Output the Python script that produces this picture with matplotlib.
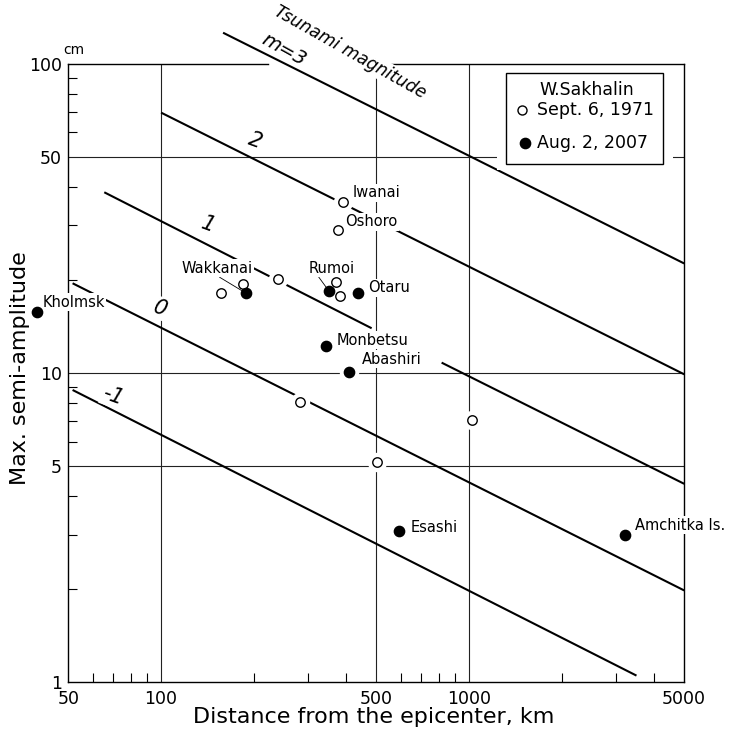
import matplotlib.pyplot as plt
from matplotlib.patches import Rectangle

#-------------- Data -------------------------------------
# W. Sakhalin, Sept. 6 1971 -> open circles (distance km, semi-amplitude cm)
dist_1971 = [389, 375, 157, 185, 239, 370, 381, 283, 1025, 502]
amp_1971 = [35.8, 29.0, 18.1, 19.4, 20.1, 19.65, 17.7, 8.07, 7.05, 5.17]

# W. Sakhalin, Aug. 2 2007 -> filled circles
dist_2007 = [39.4, 189, 351, 437, 343, 409, 594, 3210]
amp_2007 = [15.7, 18.1, 18.4, 18.2, 12.2, 10.05, 3.08, 2.99]

names_1971 = ['Iwanai', 'Oshoro']
names_2007 = ['Kholmsk', 'Wakkanai', 'Rumoi', 'Otaru', 'Monbetsu',
              'Abashiri', 'Esashi', 'Amchitka Is.']

# tsunami magnitude lines, drawn segments (m=1 is broken near Abashiri)
seg_mag = ['3', '2', '1', '1', '0', '-1']
seg_x0 = [159, 100, 65.4, 815, 51.6, 51.6]
seg_y0 = [126, 69.5, 38.4, 10.8, 19.5, 8.81]
seg_x1 = [5000, 5000, 483, 5000, 5000, 3500]
seg_y1 = [22.6, 9.9, 13.95, 4.38, 1.98, 1.05]

x_ticks = [50, 100, 500, 1000, 5000]
y_ticks = [1, 5, 10, 50, 100]
x_minor = [60, 70, 80, 90, 200, 300, 400, 600, 700, 800, 900, 2000, 3000, 4000]
y_minor = [2, 3, 4, 6, 7, 8, 9, 20, 30, 40, 60, 70, 80, 90]
x_grid = [100, 500, 1000]
y_grid = [5, 10, 50]

PX = 0.72  # pixel -> point at 100 dpi
white = dict(facecolor='white', edgecolor='none', pad=1.0)

#-------------- Figure ---------------
fig = plt.figure(figsize=(7.36, 7.37), dpi=100)
ax = fig.add_axes([0.0929, 0.0744, 0.8367, 0.8391])
ax.set_xscale('log')
ax.set_yscale('log')
ax.set_xlim(50, 5000)
ax.set_ylim(1, 100)

# grid lines
for gx in x_grid:
    ax.axvline(gx, color='#222222', lw=0.8, zorder=1)
for gy in y_grid:
    ax.axhline(gy, color='#222222', lw=0.8, zorder=1)

# magnitude lines
for i in range(len(seg_mag)):
    ax.plot([seg_x0[i], seg_x1[i]], [seg_y0[i], seg_y1[i]], color='black',
            lw=1.5, zorder=2, clip_on=False, solid_capstyle='butt')

# line labels
ax.text(250.6, 110.7, 'm=3', rotation=-29, fontsize=14, style='italic',
        ha='center', va='center')
ax.text(411, 109.2, 'Tsunami magnitude', rotation=-29.4, fontsize=12.5,
        style='italic', ha='center', va='center', bbox=white, zorder=4)
lab_text = ['2', '1', '0', '-1']
lab_pos = [(202, 56.5), (142, 30.1), (99.2, 16.2), (69.9, 8.43)]
for lab, (lx, ly) in zip(lab_text, lab_pos):
    ax.text(lx, ly, lab, rotation=-20, fontsize=15, style='italic',
            ha='center', va='center', bbox=white, zorder=4)

# white halos so lines break around the points
ax.plot(dist_1971 + dist_2007, amp_1971 + amp_2007, 'o', ms=14, color='white',
        mec='none', zorder=3, clip_on=False)
ax.plot(dist_1971, amp_1971, 'o', ms=6.8, mfc='white', mec='black', mew=1.0,
        zorder=5, clip_on=False)
ax.plot(dist_2007, amp_2007, 'o', ms=7.4, color='black', zorder=5, clip_on=False)

# station labels (offsets in px, right / up)
off_1971 = [(10, 9), (7, 8)]
off_2007 = [(6, 10), (-29, 25), (2.5, 23), (10, 5), (11, 6), (12, 13), (11, 4), (10, 10)]
for name, x, y, (dx, dy) in zip(names_1971, dist_1971, amp_1971, off_1971):
    ax.annotate(name, (x, y), xytext=(dx * PX, dy * PX), textcoords='offset points',
                fontsize=10.5, ha='left', va='center', bbox=white, zorder=4)
for name, x, y, (dx, dy) in zip(names_2007, dist_2007, amp_2007, off_2007):
    if name in ('Wakkanai', 'Rumoi'):
        rp = 0.5 if name == 'Wakkanai' else 0.2
        ax.annotate(name, (x, y), xytext=(dx * PX, dy * PX), textcoords='offset points',
                    fontsize=10.5, ha='center', va='center', bbox=white, zorder=4,
                    annotation_clip=False,
                    arrowprops=dict(arrowstyle='-', lw=0.6, color='black',
                                    shrinkA=0, shrinkB=3.5, relpos=(rp, 0)))
    else:
        ax.annotate(name, (x, y), xytext=(dx * PX, dy * PX), textcoords='offset points',
                    fontsize=10.5, ha='left', va='center', bbox=white, zorder=4,
                    annotation_clip=False)

# legend box
ax.add_patch(Rectangle((0.696, 0.828), 0.286, 0.165, transform=ax.transAxes,
                       facecolor='white', edgecolor='none', zorder=3))
ax.add_patch(Rectangle((0.7106, 0.838), 0.255, 0.147, transform=ax.transAxes,
                       facecolor='white', edgecolor='black', lw=1.0, zorder=4))
ax.text(0.8422, 0.9577, 'W.Sakhalin', transform=ax.transAxes, fontsize=12.5,
        ha='center', va='center', zorder=6)
ax.plot([0.7361], [0.9253], 'o', ms=6.5, mfc='white', mec='black', mew=1.0,
        transform=ax.transAxes, zorder=6)
ax.text(0.7605, 0.9253, 'Sept. 6, 1971', transform=ax.transAxes, fontsize=12.5,
        ha='left', va='center', zorder=6)
ax.plot([0.7415], [0.8719], 'o', ms=7.4, color='black',
        transform=ax.transAxes, zorder=6)
ax.text(0.7614, 0.8719, 'Aug. 2, 2007', transform=ax.transAxes, fontsize=12.5,
        ha='left', va='center', zorder=6)

# frame: top line broken by the title text
ax.spines['top'].set_visible(False)
ax.plot([0, 0.324], [1, 1], transform=ax.transAxes, color='black', lw=1.0, clip_on=False)
ax.plot([0.509, 1], [1, 1], transform=ax.transAxes, color='black', lw=1.0, clip_on=False)
for s in ['left', 'right', 'bottom']:
    ax.spines[s].set_linewidth(1.0)

# ticks
ax.set_xticks(x_ticks)
ax.set_xticklabels([str(t) for t in x_ticks])
ax.set_xticks(x_minor, minor=True)
ax.set_xticklabels([], minor=True)
ax.set_yticks(y_ticks)
ax.set_yticklabels([str(t) for t in y_ticks])
ax.set_yticks(y_minor, minor=True)
ax.set_yticklabels([], minor=True)
ax.tick_params(which='both', direction='in', top=False, right=False, width=0.8)
ax.tick_params(which='major', length=0, labelsize=12.5)
ax.tick_params(axis='x', which='major', pad=5.5)
ax.tick_params(axis='y', which='major', pad=4.5)
ax.tick_params(which='minor', length=6.5)

fig.text(0.1005, 0.932, 'cm', fontsize=10, ha='center', va='center')
fig.text(0.0272, 0.5007, 'Max. semi-amplitude', rotation=90, fontsize=16,
         ha='center', va='center')
fig.text(0.508, 0.0271, 'Distance from the epicenter, km', fontsize=16,
         ha='center', va='center')

fig.savefig('out.png', dpi=100)
